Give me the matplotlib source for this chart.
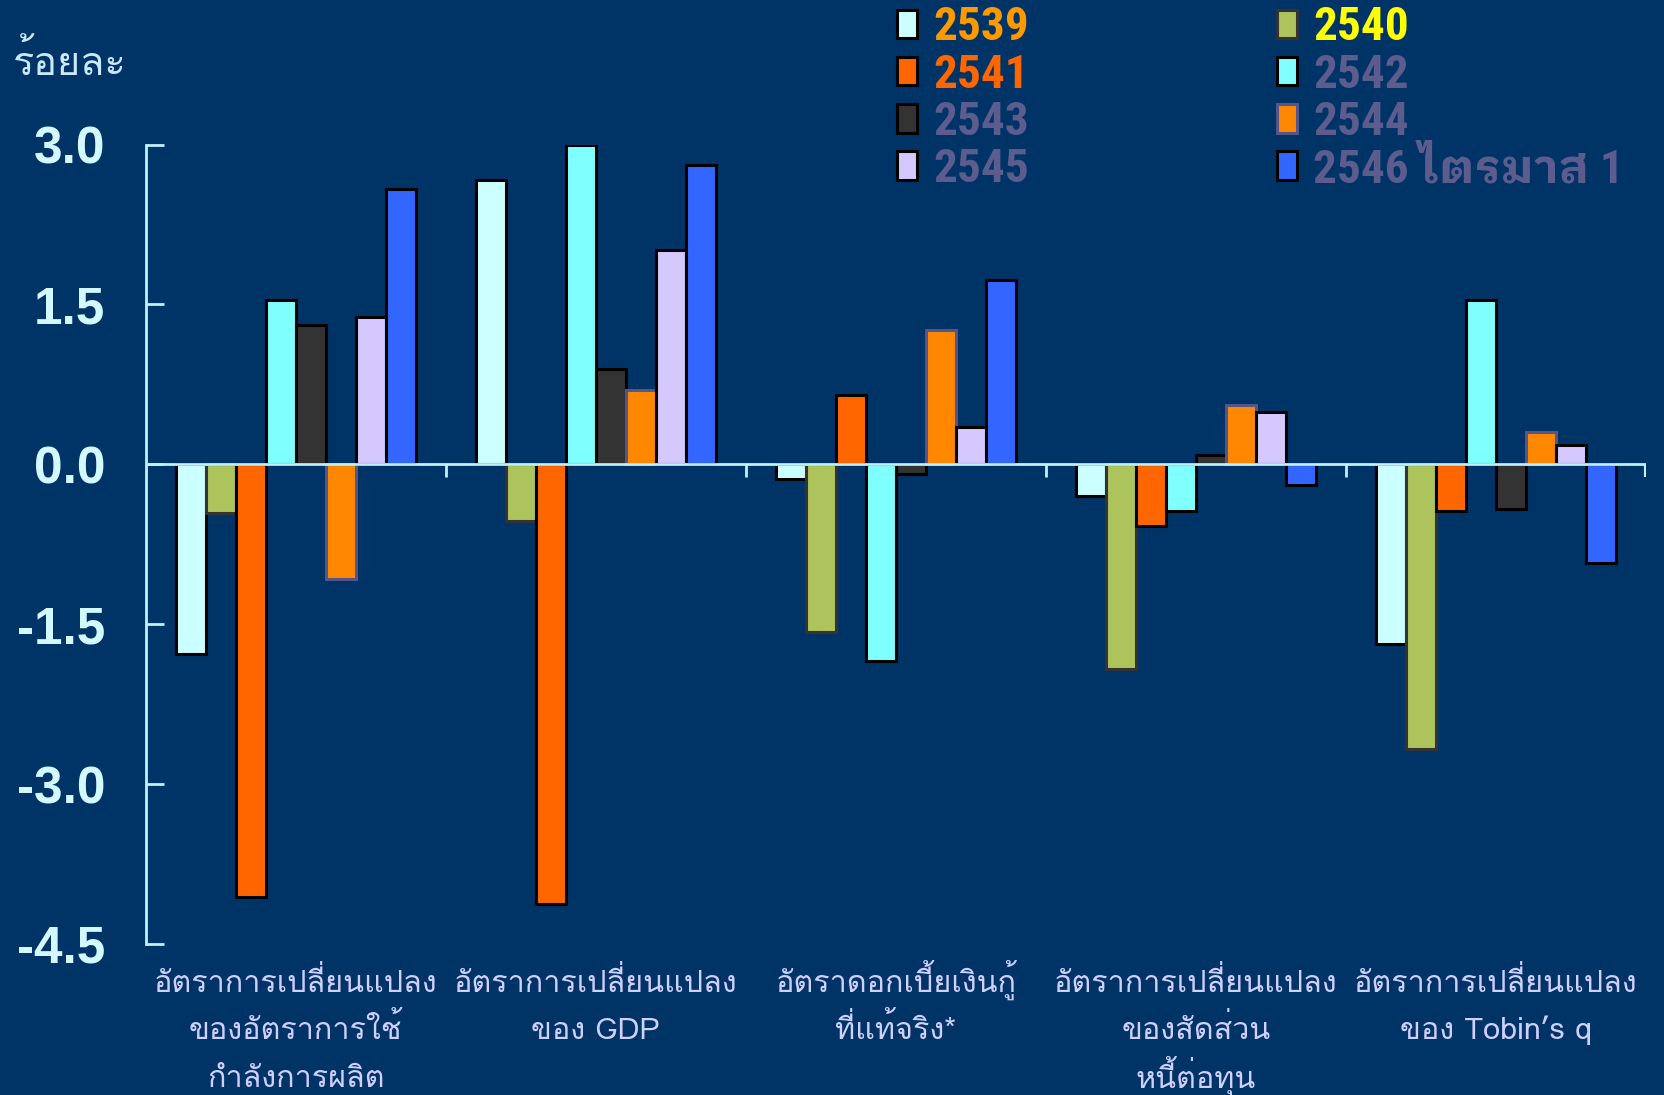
import numpy as np
import matplotlib
matplotlib.use('Agg')
import matplotlib.pyplot as plt
import matplotlib.transforms as mtransforms

# ข้อมูล (ร้อยละ)
categories = [
    'อัตราการเปลี่ยนแปลง\nของอัตราการใช้\nกำลังการผลิต',
    'อัตราการเปลี่ยนแปลง\nของ GDP',
    'อัตราดอกเบี้ยเงินกู้\nที่แท้จริง*',
    'อัตราการเปลี่ยนแปลง\nของสัดส่วน\nหนี้ต่อทุน',
    'อัตราการเปลี่ยนแปลง\nของ Tobin’s q',
]
years = ['2539', '2540', '2541', '2542', '2543', '2544', '2545', '2546 ไตรมาส 1']

v2539 = [-1.78, 2.67, -0.14, -0.30, -1.69]
v2540 = [-0.46, -0.53, -1.57, -1.92, -2.67]
v2541 = [-4.06, -4.13, 0.65, -0.58, -0.44]
v2542 = [1.54, 3.00, -1.85, -0.44, 1.54]
v2543 = [1.31, 0.89, -0.09, 0.09, -0.42]
v2544 = [-1.08, 0.70, 1.26, 0.56, 0.30]
v2545 = [1.38, 2.01, 0.35, 0.49, 0.18]
v2546 = [2.58, 2.81, 1.73, -0.19, -0.93]
series = [v2539, v2540, v2541, v2542, v2543, v2544, v2545, v2546]

yticks = [-4.5, -3.0, -1.5, 0.0, 1.5, 3.0]

face = ['#ccffff', '#adc45c', '#ff6600', '#80ffff', '#333333', '#ff8800', '#d4c8ff', '#3366ff']
edge = ['#000000', '#333333', '#000000', '#000000', '#000000', '#55558a', '#000000', '#000000']
label_colors = ['#ff9900', '#ffff00', '#ff6600', '#5c5c8f', '#5c5c8f', '#5c5c8f', '#5c5c8f', '#5c5c8f']

bg = '#003366'
axis_col = '#c0f0f8'
thai = ['Loma', 'IBM Plex Sans Thai Looped', 'DejaVu Sans']

fig = plt.figure(figsize=(16.65, 10.95), dpi=100, facecolor=bg)
ax = fig.add_axes([0.0874, 0.138, 0.9012, 0.730])
ax.set_facecolor(bg)

x = np.arange(len(categories))
w = 0.1
bars = []
for i, vals in enumerate(series):
    b = ax.bar(x + (i - 3.5) * w, vals, w, color=face[i], edgecolor=edge[i],
               linewidth=2.2, label=years[i], zorder=2)
    bars.append(b)

ax.set_xlim(-0.5, len(categories) - 0.5)
ax.set_ylim(-4.5, 3.0)

# เส้นศูนย์และขีดแบ่งกลุ่ม
ax.axhline(0, color=axis_col, lw=2, zorder=3)
ax.vlines(x[:-1] + 0.5, -0.12, 0, color=axis_col, lw=2, zorder=3)
ax.vlines([len(categories) - 0.5], -0.12, 0, color=axis_col, lw=3, zorder=3)

for s in ['top', 'right', 'bottom']:
    ax.spines[s].set_visible(False)
ax.spines['left'].set_color(axis_col)
ax.spines['left'].set_linewidth(2)

ax.set_yticks(yticks)
ax.set_yticklabels([f'{t:.1f}' for t in yticks], fontsize=37, fontweight='bold',
                   color='#d4f8ff', family='Liberation Sans')
ax.tick_params(axis='y', direction='in', length=13, width=2, color=axis_col, pad=29)

# ชื่อกลุ่มใต้แกน วางทีละบรรทัดให้ baseline ตรงกัน
ax.set_xticks([])
trans = mtransforms.blended_transform_factory(ax.transData, fig.transFigure)
first_base = 0.0941
line_step = 0.0434
for xi, cat in zip(x, categories):
    for j, line in enumerate(cat.split('\n')):
        ax.text(xi, first_base - j * line_step, line, transform=trans, ha='center',
                va='baseline', fontsize=22, color='#d0d0ff', family=thai, clip_on=False)

fig.text(0.008, 0.943, 'ร้อยละ', fontsize=28.5, color='#cce8ff', family=thai,
         va='center')

order = [0, 2, 4, 6, 1, 3, 5, 7]
leg = ax.legend([bars[i] for i in order], [years[i] for i in order], ncol=2,
                loc='upper left', bbox_to_anchor=(0.5387, 0.995), bbox_transform=fig.transFigure,
                frameon=False, borderpad=0, borderaxespad=0,
                handlelength=0.42, handleheight=0.55, handletextpad=0.35,
                labelspacing=0.07, columnspacing=5.25,
                prop={'family': ['Roboto Condensed', 'IBM Plex Sans Thai Looped'],
                      'weight': 'bold', 'size': 34})
for t, i in zip(leg.get_texts(), order):
    t.set_color(label_colors[i])

fig.savefig('out.png', facecolor=bg)
